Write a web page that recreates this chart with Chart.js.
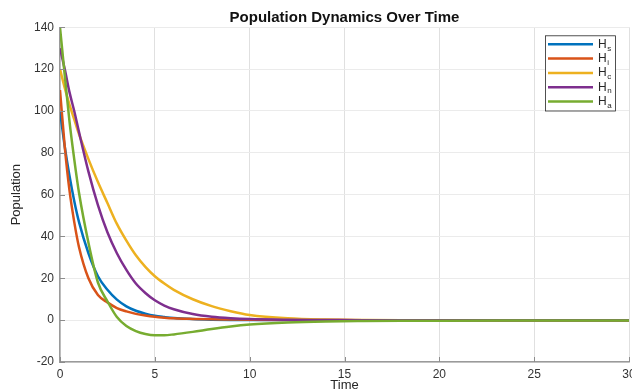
<!DOCTYPE html>
<html>
<head>
<meta charset="utf-8">
<script src="https://cdn.jsdelivr.net/npm/chart.js"></script>
<style>
  html, body { margin: 0; padding: 0; background: #fff; overflow: hidden; }
  #wrap { width: 632px; height: 392px; position: relative; }
</style>
</head>
<body>
<div id="wrap"><canvas id="popChart"></canvas></div>
<script>
//------------------------------------
// Data
//------------------------------------

const timeValues = [0, 0.25, 0.5, 0.75, 1, 1.5, 2, 2.5, 3, 3.5, 4, 4.5, 5, 5.5, 6, 7, 8, 9, 10, 12, 14, 16, 18, 20, 25, 30];

const hsValues = [100, 83, 69, 57, 47, 32, 21, 14.5, 9.8, 6.6, 4.5, 3.1, 2.1, 1.5, 1.0, 0.5, 0.25, 0.12, 0.06, 0.02, 0, 0, 0, 0, 0, 0];
const hiValues = [110, 83, 62, 47, 35, 20, 12, 8.5, 5.8, 4.2, 3, 2.2, 1.6, 1.2, 0.9, 0.6, 0.4, 0.3, 0.2, 0.1, 0.05, 0, 0, 0, 0, 0];
const hcValues = [120, 111, 103, 96, 89, 77, 66, 56, 46, 38, 31, 25.5, 21, 17.5, 14.5, 10, 6.7, 4.3, 2.5, 0.9, 0.3, 0.1, 0, 0, 0, 0];
const hnValues = [130, 120, 109, 100, 90, 71, 55, 42, 32, 24, 17.5, 13, 9.5, 7, 5.2, 2.9, 1.6, 0.9, 0.5, 0.2, 0.1, 0, 0, 0, 0, 0];
const haValues = [140, 117, 95, 77, 61, 37, 18, 9, 1.5, -2.8, -5.2, -6.6, -7.2, -7.2, -6.8, -5.6, -4.2, -3, -2.1, -1.1, -0.6, -0.4, -0.3, -0.25, -0.2, -0.2];

const seriesNames = ["H_s", "H_i", "H_c", "H_n", "H_a"];
const seriesColors = ["#0072BD", "#D95319", "#EDB120", "#7E2F8E", "#77AC30"];

const xTicks = [0, 5, 10, 15, 20, 25, 30];
const yTicks = [-20, 0, 20, 40, 60, 80, 100, 120, 140];

//------------------------------------
// Helpers
//------------------------------------

function toPoints(values) {
    return values.map(function (v, i) {
        return { x: timeValues[i], y: v };
    });
}

const allSeries = [hsValues, hiValues, hcValues, hnValues, haValues];

const datasets = allSeries.map(function (vals, i) {
    return {
        label: seriesNames[i],
        data: toPoints(vals),
        borderColor: seriesColors[i],
        backgroundColor: seriesColors[i],
        borderWidth: 2.5,
        pointRadius: 0,
        fill: false,
        cubicInterpolationMode: "monotone",
        order: allSeries.length - i   // later series drawn on top, like MATLAB
    };
});

const fontFamily = "'Liberation Sans', Arial, sans-serif";
const tickFont = { family: fontFamily, size: 12 };

//------------------------------------
// Inward tick marks (MATLAB look)
//------------------------------------

const innerTicks = {
    id: "innerTicks",
    afterDatasetsDraw(chart) {
        const ctx = chart.ctx;
        const area = chart.chartArea;
        const xs = chart.scales.x;
        const ys = chart.scales.y;
        ctx.save();
        ctx.strokeStyle = "#8c8c8c";
        ctx.lineWidth = 1;
        ctx.beginPath();
        xTicks.forEach(function (t) {
            const px = Math.round(xs.getPixelForValue(t)) + 0.5;
            ctx.moveTo(px, area.bottom);
            ctx.lineTo(px, area.bottom - 5);
        });
        yTicks.forEach(function (t) {
            const py = Math.round(ys.getPixelForValue(t)) + 0.5;
            ctx.moveTo(area.left, py);
            ctx.lineTo(area.left + 5, py);
        });
        ctx.stroke();
        ctx.restore();
    }
};

//------------------------------------
// Legend with subscripts
//------------------------------------

const subLegend = {
    id: "subLegend",
    afterDraw(chart) {
        const ctx = chart.ctx;
        const area = chart.chartArea;
        const boxW = 70;
        const rowH = 14.3;
        const boxH = 18 + rowH * (seriesNames.length - 1);
        const left = area.right - 84;
        const top = area.top + 8;

        ctx.save();
        ctx.fillStyle = "#ffffff";
        ctx.fillRect(left, top, boxW, boxH);
        ctx.strokeStyle = "#262626";
        ctx.lineWidth = 0.8;
        ctx.strokeRect(left + 0.5, top + 0.5, boxW, boxH);

        seriesNames.forEach(function (name, i) {
            const y = top + 9 + i * rowH;
            ctx.strokeStyle = seriesColors[i];
            ctx.lineWidth = 2.5;
            ctx.beginPath();
            ctx.moveTo(left + 3, y);
            ctx.lineTo(left + 48, y);
            ctx.stroke();

            const parts = name.split("_");
            ctx.fillStyle = "#262626";
            ctx.textBaseline = "middle";
            ctx.font = "12px " + fontFamily;
            ctx.fillText(parts[0], left + 53, y);
            const w = ctx.measureText(parts[0]).width;
            ctx.font = "8px " + fontFamily;
            ctx.fillText(parts[1], left + 53 + w + 0.5, y + 4);
        });
        ctx.restore();
    }
};

//------------------------------------
// Chart
//------------------------------------

window.addEventListener("load", function () {

    const ctx = document.getElementById("popChart");

    new Chart(ctx, {
        type: "line",
        data: { datasets: datasets },
        plugins: [innerTicks, subLegend],
        options: {
            responsive: true,
            maintainAspectRatio: false,
            animation: false,
            layout: { padding: { left: 0, right: 3, top: 0, bottom: 0 } },
            plugins: {
                legend: { display: false },
                tooltip: { enabled: false },
                title: {
                    display: true,
                    fullSize: false,
                    text: "Population Dynamics Over Time",
                    color: "#111",
                    font: { family: fontFamily, size: 15, weight: "bold", lineHeight: 1.2 },
                    padding: { top: 9.3, bottom: 0 }
                }
            },
            scales: {
                x: {
                    type: "linear",
                    min: 0,
                    max: 30,
                    afterBuildTicks: function (scale) {
                        scale.ticks = xTicks.map(function (v) { return { value: v }; });
                    },
                    afterFit: function (scale) {
                        scale.height = 30;
                        scale.paddingLeft = 0;
                        scale.paddingRight = 0;
                    },
                    grid: { color: "#e0e0e0", drawTicks: false },
                    border: { color: "#9a9a9a", width: 1.5 },
                    ticks: { padding: 5, color: "#333", font: tickFont },
                    title: {
                        display: true,
                        text: "Time",
                        color: "#262626",
                        font: { family: fontFamily, size: 13, lineHeight: 1.0 },
                        padding: { top: 0, bottom: 0 }
                    }
                },
                y: {
                    min: -20,
                    max: 140,
                    afterBuildTicks: function (scale) {
                        scale.ticks = yTicks.map(function (v) { return { value: v }; });
                    },
                    afterFit: function (scale) { scale.width = 60; },
                    grid: { color: "#ebebeb", drawTicks: false },
                    border: { color: "#9a9a9a", width: 1.5 },
                    ticks: { padding: 6, color: "#333", font: tickFont },
                    title: {
                        display: true,
                        text: "Population",
                        color: "#262626",
                        font: { family: fontFamily, size: 13, lineHeight: 1.0 },
                        padding: { top: 10, bottom: 0 }
                    }
                }
            }
        }
    });

});
</script>
</body>
</html>
